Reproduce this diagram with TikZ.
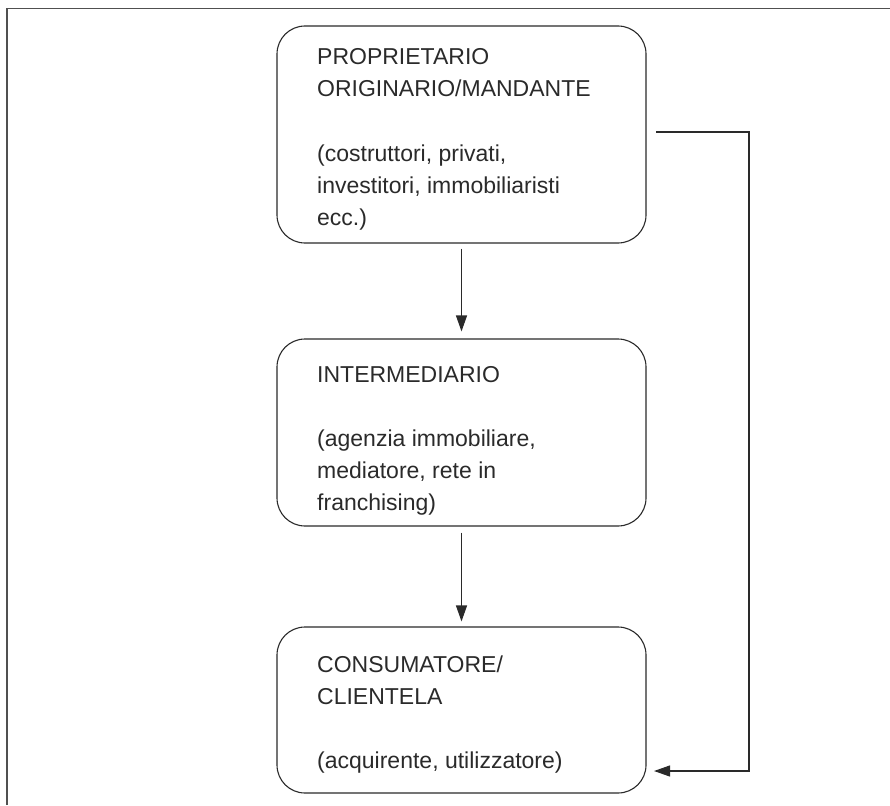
\documentclass[tikz,border=0pt]{standalone}
\usepackage{fontspec}
\setmainfont{Liberation Sans}
\usetikzlibrary{arrows.meta}
\definecolor{ink}{HTML}{2A2A2A}
\definecolor{framecol}{HTML}{505050}
\tikzset{
  box/.style={draw=ink, line width=1.1pt, rounded corners=28pt, minimum width=369pt, inner sep=0pt},
  txt/.style={anchor=base west, inner sep=0pt, text=ink, font=\fontsize{23}{32}\selectfont},
  conn/.style={draw=ink, line width=1.1pt, -{Triangle[length=16pt,width=11pt]}},
  frameline/.style={draw=framecol, line width=1.4pt}
}
\begin{document}
\begin{tikzpicture}[x=1pt,y=-1pt]
\useasboundingbox (0,0) rectangle (890,805);
% frame (top and left only)
\coordinate (fa) at (7,805);
\coordinate (fb) at (7,8.5);
\coordinate (fc) at (890,8.5);
\draw[frameline] (fa) -- (fb) -- (fc);

% boxes
\node[box, minimum height=217pt] (b1) at (461.5,134.5) {};
\node[box, minimum height=187pt] (b2) at (461.5,432.5) {};
\node[box, minimum height=166pt] (b3) at (461.5,710) {};

% texts box 1
\node[txt] (t11) at (317,65) {PROPRIETARIO};
\node[txt] (t12) at (317,97) {ORIGINARIO/MANDANTE};
\node[txt] (t13) at (317,161) {(costruttori, privati,};
\node[txt] (t14) at (317,193) {investitori, immobiliaristi};
\node[txt] (t15) at (317,225) {ecc.)};

% texts box 2
\node[txt] (t21) at (317,382) {INTERMEDIARIO};
\node[txt] (t22) at (317,446) {(agenzia immobiliare,};
\node[txt] (t23) at (317,478) {mediatore, rete in};
\node[txt] (t24) at (317,510) {franchising)};

% texts box 3
\node[txt] (t31) at (317,672) {CONSUMATORE/};
\node[txt] (t32) at (317,704) {CLIENTELA};
\node[txt] (t33) at (317,768) {(acquirente, utilizzatore)};

% vertical arrows
\draw[conn] ([yshift=-5pt]b1.south) -- ([yshift=7pt]b2.north);
\draw[conn] ([yshift=-6pt]b2.south) -- ([yshift=5pt]b3.north);

% side connector
\coordinate (s1) at (656,132);
\coordinate (s2) at (749,132);
\coordinate (s3) at (749,771);
\coordinate (s4) at (654,771);
\draw[conn] (s1) -- (s2) -- (s3) -- (s4);
\end{tikzpicture}
\end{document}
